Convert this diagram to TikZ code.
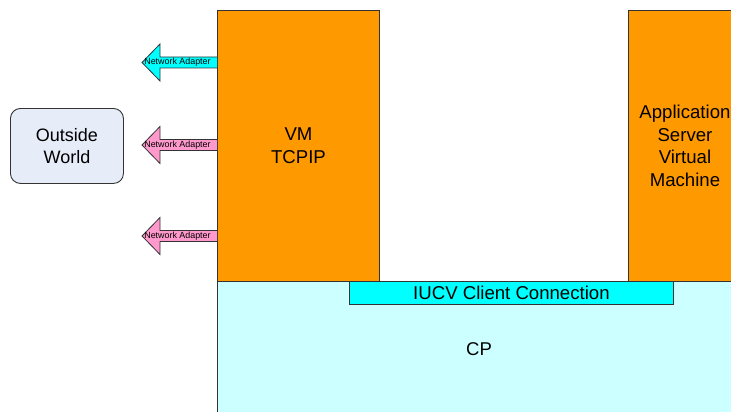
\documentclass[tikz,border=0pt]{standalone}
\usepackage{fontspec}
\setmainfont{Liberation Sans}
\definecolor{vmorange}{HTML}{FF9900}
\definecolor{cpcyan}{HTML}{CCFFFF}
\definecolor{iucvcyan}{HTML}{00FFFF}
\definecolor{adpink}{HTML}{FF99CC}
\definecolor{worldfill}{HTML}{E6ECF8}
\definecolor{edge}{HTML}{333333}
\begin{document}
\begin{tikzpicture}[x=1pt,y=-1pt,
  box/.style={draw=edge, line width=0.9pt, anchor=north west, inner sep=0pt,
    align=center, font=\fontsize{18.6}{22.7}\selectfont},
  adapter/.style={draw=edge, line width=0.8pt, line join=miter},
  adlabel/.style={inner sep=0pt, font=\fontsize{8.9}{10}\selectfont}]
\useasboundingbox (0,0) rectangle (731,412);
\clip (0,0) rectangle (731,412);
% CP
\node[box, fill=cpcyan, minimum width=524pt, minimum height=136pt] (cp) at (217,281) {};
\node[font=\fontsize{18.5}{22}\selectfont, inner sep=0pt] (cplabel) at (479,349) {CP};
% VM TCPIP
\node[box, fill=vmorange, minimum width=162pt, minimum height=271pt] (vm) at (217,10) {VM\\TCPIP};
% Application server
\node[box, fill=vmorange, minimum width=113pt, minimum height=271pt] (app) at (628,10) {Application\\Server\\Virtual\\Machine};
% IUCV
\node[box, fill=iucvcyan, minimum width=324pt, minimum height=23pt] (iucv) at (349,281) {IUCV Client Connection};
% Outside world
\node[draw=edge, line width=0.9pt, fill=worldfill, rounded corners=10pt,
  minimum width=113pt, minimum height=75pt, anchor=north west, align=center,
  inner sep=0pt, font=\fontsize{18}{22.7}\selectfont] (world) at (10,108) {Outside\\World};
% Network adapters
\foreach \yc/\col/\nm in {62.5/iucvcyan/na1, 145/adpink/na2, 236/adpink/na3}{
  \draw[adapter, fill=\col] (217,\yc-5.5) -- (160,\yc-5.5) -- (160,\yc-18.5)
     -- (142,\yc) -- (160,\yc+18.5) -- (160,\yc+5.5) -- (217,\yc+5.5);
  \node[adlabel] (\nm) at (177.5,\yc) {Network Adapter};
}
\end{tikzpicture}
\end{document}
